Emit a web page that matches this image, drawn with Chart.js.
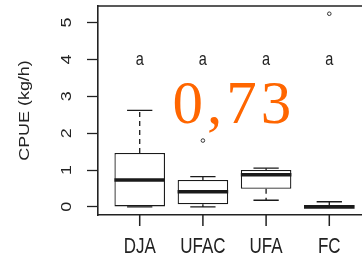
<!DOCTYPE html>
<html>
<head>
<meta charset="utf-8">
<script src="https://cdn.jsdelivr.net/npm/chart.js@4/dist/chart.umd.min.js"></script>
<style>
  html, body { margin: 0; padding: 0; background: #fff; overflow: hidden; }
  #wrap { position: relative; width: 376px; height: 259px; }
</style>
</head>
<body>
<div id="wrap"><canvas id="chart"></canvas></div>
<script>
// boxplot summary per site
const sites = ['DJA', 'UFAC', 'UFA', 'FC'];
const q1 = [0, 0.07, 0.49, 0];
const median = [0.73, 0.41, 0.87, 0];
const q3 = [1.46, 0.73, 1.0, 0.03];
const whiskerLow = [0, 0, 0.18, 0];
const whiskerHigh = [2.62, 0.82, 1.05, 0.14];
const outlierSite = [2, 4];
const outlierValue = [1.80, 5.24];
const groupLetters = ['a', 'a', 'a', 'a'];
const yTicks = [0, 1, 2, 3, 4, 5];
const yTitle = 'CPUE (kg/h)';
const highlight = '0,73';

const ink = '#1a1a1a';
const txt = '#222';
// the source figure was stretched vertically, text included
const stretch = 1.28;

function stretchedText(ctx, s, x, y, rotate, font) {
    ctx.save();
    ctx.font = font;
    ctx.fillStyle = txt;
    ctx.textAlign = 'center';
    ctx.textBaseline = 'middle';
    ctx.translate(x, y);
    if (rotate) {
        ctx.rotate(-Math.PI / 2);
        ctx.scale(stretch, 1);
    } else {
        ctx.scale(1, stretch);
    }
    ctx.fillText(s, 0, 0);
    ctx.restore();
}

const boxExtras = {
    id: 'boxExtras',
    afterDatasetsDraw(chart) {
        const ctx = chart.ctx;
        const x = chart.scales.x;
        const y = chart.scales.y;
        const a = chart.chartArea;
        const half = x.getPixelForValue(1.4) - x.getPixelForValue(1);
        ctx.save();
        ctx.strokeStyle = ink;
        sites.forEach((s, i) => {
            const px = x.getPixelForValue(i + 1);
            // whiskers (dashed)
            ctx.lineWidth = 1.3;
            ctx.setLineDash([5, 4]);
            ctx.beginPath();
            if (whiskerHigh[i] > q3[i]) {
                ctx.moveTo(px, y.getPixelForValue(q3[i]));
                ctx.lineTo(px, y.getPixelForValue(whiskerHigh[i]));
            }
            if (whiskerLow[i] < q1[i]) {
                ctx.moveTo(px, y.getPixelForValue(q1[i]));
                ctx.lineTo(px, y.getPixelForValue(whiskerLow[i]));
            }
            ctx.stroke();
            // caps
            ctx.setLineDash([]);
            ctx.beginPath();
            [whiskerHigh[i], whiskerLow[i]].forEach(v => {
                const py = y.getPixelForValue(v);
                ctx.moveTo(px - half / 2, py);
                ctx.lineTo(px + half / 2, py);
            });
            ctx.stroke();
            // median
            ctx.lineWidth = 3.6;
            ctx.beginPath();
            const pm = y.getPixelForValue(median[i]);
            ctx.moveTo(px - half, pm);
            ctx.lineTo(px + half, pm);
            ctx.stroke();
            // x tick mark
            ctx.fillStyle = txt;
            ctx.fillRect(px - 0.75, a.bottom, 1.5, 11);
            // group letter and site label
            stretchedText(ctx, groupLetters[i], px, y.getPixelForValue(4), false, '14.5px "Liberation Sans"');
            stretchedText(ctx, s, px, a.bottom + 32, false, '17px "Liberation Sans"');
        });
        // y tick labels and title, turned like R's las=0
        yTicks.forEach(v => {
            stretchedText(ctx, String(v), a.left - 31, y.getPixelForValue(v), true, '14px "Liberation Sans"');
        });
        stretchedText(ctx, yTitle, 25, (a.top + a.bottom) / 2, true, '14px "Liberation Sans"');
        // top frame line
        ctx.lineWidth = 1.6;
        ctx.strokeStyle = txt;
        ctx.beginPath();
        ctx.moveTo(a.left, a.top);
        ctx.lineTo(a.right, a.top);
        ctx.stroke();
        // orange overlay value
        ctx.fillStyle = '#ff6600';
        ctx.font = '61px "Liberation Serif"';
        ctx.letterSpacing = '4px';
        ctx.textAlign = 'center';
        ctx.textBaseline = 'alphabetic';
        ctx.fillText(highlight, x.getPixelForValue(2.49), y.getPixelForValue(2.27));
        ctx.restore();
    }
};

const ctx = document.getElementById('chart').getContext('2d');
new Chart(ctx, {
    type: 'bar',
    data: {
        datasets: [{
            type: 'bar',
            data: sites.map((s, i) => ({ x: i + 1, y: [q1[i], q3[i]] })),
            backgroundColor: '#ffffff',
            borderColor: ink,
            borderWidth: 1.3,
            borderSkipped: false,
            categoryPercentage: 0.8,
            barPercentage: 1
        }, {
            type: 'line',
            data: outlierSite.map((s, i) => ({ x: s, y: outlierValue[i] })),
            showLine: false,
            pointRadius: 1.8,
            pointBorderWidth: 1,
            pointBorderColor: '#333',
            pointBackgroundColor: '#fff'
        }]
    },
    options: {
        animation: false,
        responsive: true,
        maintainAspectRatio: false,
        layout: { padding: { top: 6, right: 3, left: 0, bottom: 0 } },
        plugins: { legend: { display: false }, tooltip: { enabled: false } },
        scales: {
            x: {
                type: 'linear',
                offset: false,
                min: 0.34,
                max: 4.66,
                afterBuildTicks: ax => { ax.ticks = sites.map((s, i) => ({ value: i + 1 })); },
                afterFit: ax => { ax.height = 44; },
                ticks: { display: false },
                grid: { display: false },
                border: { display: true, color: txt, width: 1.6 }
            },
            y: {
                min: -0.22,
                max: 5.45,
                afterBuildTicks: ax => { ax.ticks = yTicks.map(v => ({ value: v })); },
                afterFit: ax => { ax.width = 98; },
                ticks: { display: false },
                grid: { drawOnChartArea: false, drawTicks: true, tickLength: 11, tickColor: txt, tickWidth: 1.3 },
                border: { display: true, color: txt, width: 1.6 }
            }
        }
    },
    plugins: [boxExtras]
});
</script>
</body>
</html>
